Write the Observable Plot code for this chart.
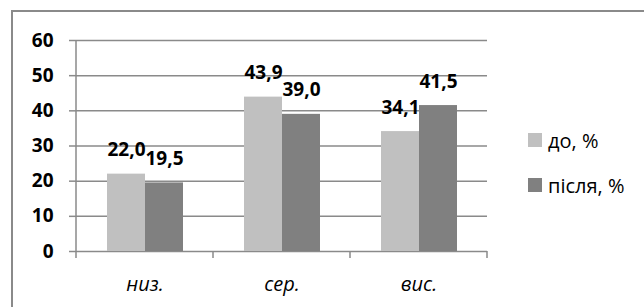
<!DOCTYPE html>
<html>
<head>
<meta charset="utf-8">
<script src="https://cdn.jsdelivr.net/npm/d3@7"></script>
<script src="https://cdn.jsdelivr.net/npm/@observablehq/plot@0.6"></script>
<style>
  html, body { margin: 0; padding: 0; background: #fff; }
  #wrap { position: relative; width: 644px; height: 307px; overflow: hidden; font-family: "Open Sans", sans-serif; }
  #border { position: absolute; left: 11px; top: 10px; width: 700px; height: 400px; border-left: 2px solid #8a8a8a; border-top: 2px solid #8a8a8a; box-sizing: border-box; }
  #chart { position: absolute; left: 0; top: 0; }
  .leg { position: absolute; left: 528px; display: flex; align-items: center; height: 14px; font-size: 20px; color: #000; white-space: nowrap; }
  .leg .sw { width: 14px; height: 14px; margin-right: 6px; flex: none; }
</style>
</head>
<body>
<div id="wrap">
  <div id="border"></div>
  <div id="chart"></div>
</div>
<script>
const categories = ["низ.", "сер.", "вис."];
const series = ["до, %", "після, %"];
const before = [22.0, 43.9, 34.1];
const after = [19.5, 39.0, 41.5];
const yTicks = [0, 10, 20, 30, 40, 50, 60];
const colors = ["#c0c0c0", "#808080"];

const data = [];
categories.forEach((c, i) => {
  data.push({cat: c, series: series[0], value: before[i]});
  data.push({cat: c, series: series[1], value: after[i]});
});
const fmt = v => v.toFixed(1).replace(".", ",");
const gridColor = "#8a8a8a";

const chart = Plot.plot({
  width: 644,
  height: 307,
  marginLeft: 76,
  marginRight: 157,
  marginTop: 40,
  marginBottom: 56,
  style: {fontFamily: "Open Sans, sans-serif", background: "transparent", overflow: "visible"},
  fx: {domain: categories, padding: 0, label: null},
  x: {domain: series, paddingInner: 0, paddingOuter: 0.77, axis: null},
  y: {domain: [0, 60], label: null},
  color: {domain: series, range: colors},
  marks: [
    Plot.gridY(yTicks, {stroke: gridColor, strokeOpacity: 1, strokeWidth: 1.5}),
    Plot.axisY(yTicks, {tickSize: 7, tickPadding: 16, stroke: gridColor, strokeWidth: 1.5, fill: "#000", fontSize: 19, fontWeight: "bold", label: null}),
    Plot.axisFx({anchor: "bottom", tickSize: 0, tickPadding: 25, fontSize: 20, fontStyle: "italic", fill: "#000", label: null}),
    Plot.barY(data, {fx: "cat", x: "series", y: "value", fill: "series"}),
    Plot.text(data, {fx: "cat", x: "series", y: "value", text: d => fmt(d.value), dy: -24, fontSize: 19, fontWeight: "bold", fill: "#000"})
  ]
});
document.getElementById("chart").appendChild(chart);

// category boundary ticks and vertical axis line, positioned from the library's scales
const fx = chart.scale("fx");
const y = chart.scale("y");
const svg = d3.select(chart);
const y0 = y.apply(0), yTop = y.apply(60);
const g = svg.append("g").attr("stroke", gridColor).attr("stroke-width", 1.5);
g.append("line").attr("x1", fx.apply(categories[0])).attr("x2", fx.apply(categories[0]))
  .attr("y1", yTop).attr("y2", y0 + 7);
categories.forEach(c => {
  const xb = fx.apply(c) + fx.bandwidth;
  g.append("line").attr("x1", xb).attr("x2", xb).attr("y1", y0).attr("y2", y0 + 7);
});

// legend
const wrap = document.getElementById("wrap");
const legTops = [133, 178];
series.forEach((s, i) => {
  const d = document.createElement("div");
  d.className = "leg";
  d.style.top = legTops[i] + "px";
  d.innerHTML = `<span class="sw" style="background:${colors[i]}"></span><span>${s}</span>`;
  wrap.appendChild(d);
});
</script>
</body>
</html>
